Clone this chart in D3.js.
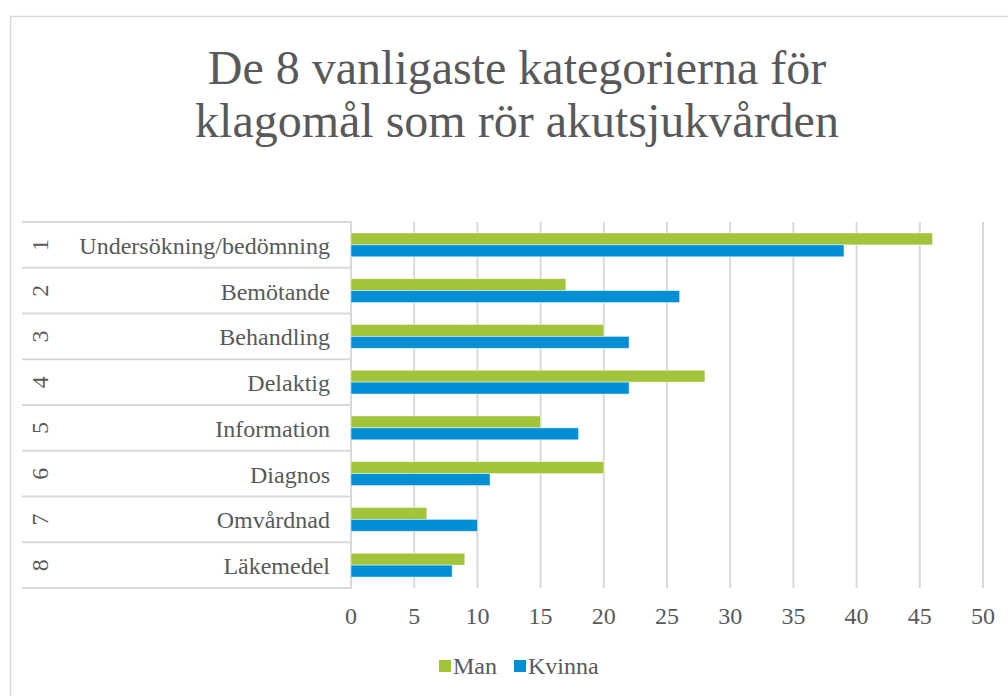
<!DOCTYPE html>
<html lang="sv">
<head>
    <meta charset="UTF-8">
    <title>Klagomål akutsjukvården</title>
    <script src="https://d3js.org/d3.v7.min.js"></script>
    <style>
        body { margin: 0; background: #fff; }
    </style>
</head>
<body>
<script>
    // data
    const ranks = ["1", "2", "3", "4", "5", "6", "7", "8"];
    const categories = ["Undersökning/bedömning", "Bemötande", "Behandling", "Delaktig",
                        "Information", "Diagnos", "Omvårdnad", "Läkemedel"];
    const man = [46, 17, 20, 28, 15, 20, 6, 9];
    const kvinna = [39, 26, 22, 22, 18, 11, 10, 8];
    const seriesNames = ["Man", "Kvinna"];
    const ticks = [0, 5, 10, 15, 20, 25, 30, 35, 40, 45, 50];

    const colors = {Man: "#a1c43a", Kvinna: "#008fd5"};
    const gridColor = "#d9d9d9";
    const textColor = "#595959";
    const font = "'Liberation Serif', serif";

    const width = 1008, height = 696;
    const svg = d3.select("body").append("svg")
        .attr("width", width)
        .attr("height", height)
        .style("font-family", font);

    // chart border
    svg.append("rect")
        .attr("x", 10.5).attr("y", 16.5)
        .attr("width", 1010).attr("height", 700)
        .attr("fill", "#fff")
        .attr("stroke", gridColor)
        .attr("stroke-width", 1.5);

    // title
    const title = svg.append("text")
        .attr("text-anchor", "middle")
        .style("font-family", font)
        .attr("fill", textColor)
        .attr("font-size", 48);
    title.append("tspan").attr("x", 517).attr("y", 84).text("De 8 vanligaste kategorierna för");
    title.append("tspan").attr("x", 517).attr("y", 137).text("klagomål som rör akutsjukvården");

    // scales
    const x = d3.scaleLinear().domain([0, 50]).range([351, 983]);
    const y = d3.scaleBand().domain(categories).range([222, 588]);
    const ySub = d3.scaleBand().domain(seriesNames).range([0, y.bandwidth()]).paddingOuter(0.92);

    // vertical gridlines
    svg.append("g")
        .selectAll("line")
        .data(ticks.slice(1))
        .join("line")
        .attr("x1", d => x(d)).attr("x2", d => x(d))
        .attr("y1", 222).attr("y2", 588)
        .attr("stroke", gridColor)
        .attr("stroke-width", 2);

    // category box lines
    const bounds = categories.map(c => y(c)).concat([588]);
    svg.append("g")
        .selectAll("line")
        .data(bounds)
        .join("line")
        .attr("x1", 22).attr("x2", 351)
        .attr("y1", d => d).attr("y2", d => d)
        .attr("stroke", gridColor)
        .attr("stroke-width", 2);
    svg.append("line")
        .attr("x1", 351).attr("x2", 351)
        .attr("y1", 221).attr("y2", 589)
        .attr("stroke", gridColor)
        .attr("stroke-width", 2);

    // bars
    const rows = categories.map((c, i) => ({cat: c, Man: man[i], Kvinna: kvinna[i]}));
    const group = svg.append("g")
        .selectAll("g")
        .data(rows)
        .join("g")
        .attr("transform", d => `translate(0,${y(d.cat)})`);

    group.selectAll("rect")
        .data(d => seriesNames.map(s => ({key: s, value: d[s]})))
        .join("rect")
        .attr("x", x(0))
        .attr("y", d => ySub(d.key))
        .attr("width", d => x(d.value) - x(0))
        .attr("height", ySub.bandwidth())
        .attr("fill", d => colors[d.key])
        .attr("stroke", "#fff")
        .attr("stroke-opacity", 0.6)
        .attr("stroke-width", 0.75);

    // category labels
    svg.append("g")
        .selectAll("text")
        .data(categories)
        .join("text")
        .attr("x", 330)
        .attr("y", d => y(d) + y.bandwidth() / 2 + 9)
        .attr("text-anchor", "end")
        .style("font-family", font)
        .attr("fill", textColor)
        .attr("font-size", 24)
        .text(d => d);

    // rotated rank labels
    svg.append("g")
        .selectAll("text")
        .data(ranks)
        .join("text")
        .attr("transform", (d, i) => `translate(40,${y(categories[i]) + y.bandwidth() / 2}) rotate(-90)`)
        .attr("dy", "0.33em")
        .attr("text-anchor", "middle")
        .style("font-family", font)
        .attr("fill", textColor)
        .attr("font-size", 24)
        .text(d => d);

    // x axis tick labels
    svg.append("g")
        .selectAll("text")
        .data(ticks)
        .join("text")
        .attr("x", d => x(d))
        .attr("y", 624)
        .attr("text-anchor", "middle")
        .style("font-family", font)
        .attr("fill", textColor)
        .attr("font-size", 24)
        .text(d => d);

    // legend
    const legendPos = [{key: "Man", x: 439}, {key: "Kvinna", x: 514}];
    const legend = svg.append("g")
        .selectAll("g")
        .data(legendPos)
        .join("g")
        .attr("transform", d => `translate(${d.x},660)`);
    legend.append("rect")
        .attr("width", 12).attr("height", 12)
        .attr("fill", d => colors[d.key]);
    legend.append("text")
        .attr("x", 14).attr("y", 14)
        .style("font-family", font)
        .attr("fill", textColor)
        .attr("font-size", 24)
        .text(d => d.key);
</script>
</body>
</html>
